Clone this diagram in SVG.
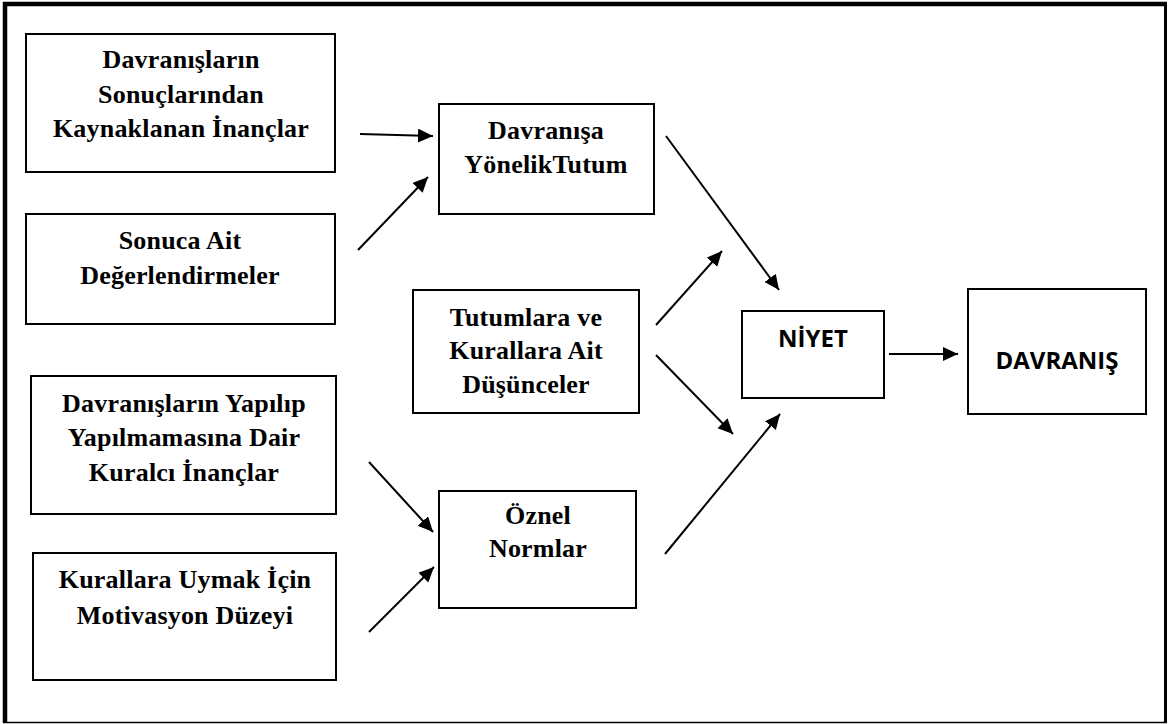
<svg xmlns="http://www.w3.org/2000/svg" width="1168" height="724" viewBox="0 0 1168 724">
  <style>
    .box { fill: #ffffff; stroke: #000000; stroke-width: 2; }
    .t { font-family: "Liberation Serif", "Times New Roman", serif; font-weight: bold; font-size: 26px; letter-spacing: 0.2px; text-anchor: middle; fill: #000000; }
    .s { font-family: "Open Sans", "Liberation Sans", sans-serif; font-weight: bold; font-size: 24px; text-anchor: middle; fill: #000000; }
    .edge { stroke: #000000; stroke-width: 2; fill: none; marker-end: url(#arrow); }
  </style>
  <defs>
    <marker id="arrow" markerUnits="userSpaceOnUse" markerWidth="16" markerHeight="16" refX="15" refY="7" orient="auto">
      <path d="M0,0 L15,7 L0,14 z" fill="#000000"/>
    </marker>
  </defs>

  <rect width="1168" height="724" fill="#ffffff"/>

  <!-- outer frame -->
  <g id="frame" stroke="#000000" fill="none">
    <line x1="5" y1="2" x2="5" y2="723" stroke-width="4.5"/>
    <line x1="3" y1="4" x2="1167" y2="4" stroke-width="4.5"/>
    <line x1="1165.5" y1="2" x2="1165.5" y2="723" stroke-width="3"/>
    <line x1="3" y1="722.5" x2="1167" y2="722.5" stroke-width="1.5"/>
  </g>

  <g id="n-sonuc-inanc">
    <rect class="box" x="26" y="34" width="309" height="138"/>
    <text class="t" x="181" y="68">Davranışların</text>
    <text class="t" x="181" y="103">Sonuçlarından</text>
    <text class="t" x="181" y="137">Kaynaklanan  İnançlar</text>
  </g>

  <g id="n-sonuca-ait">
    <rect class="box" x="26" y="214" width="309" height="110"/>
    <text class="t" x="180" y="249">Sonuca Ait</text>
    <text class="t" x="180" y="284">Değerlendirmeler</text>
  </g>

  <g id="n-tutum">
    <rect class="box" x="439" y="104" width="215" height="110"/>
    <text class="t" x="546" y="139">Davranışa</text>
    <text class="t" x="546" y="173">YönelikTutum</text>
  </g>

  <g id="n-dusunce">
    <rect class="box" x="413" y="290" width="226" height="123"/>
    <text class="t" x="526" y="326">Tutumlara ve</text>
    <text class="t" x="526" y="359">Kurallara Ait</text>
    <text class="t" x="526" y="393">Düşünceler</text>
  </g>

  <g id="n-kuralci">
    <rect class="box" x="31" y="376" width="305" height="138"/>
    <text class="t" x="184" y="412">Davranışların Yapılıp</text>
    <text class="t" x="184" y="446">Yapılmamasına Dair</text>
    <text class="t" x="184" y="481">Kuralcı İnançlar</text>
  </g>

  <g id="n-motivasyon">
    <rect class="box" x="33" y="553" width="303" height="127"/>
    <text class="t" x="185" y="588">Kurallara Uymak İçin</text>
    <text class="t" x="185" y="624">Motivasyon Düzeyi</text>
  </g>

  <g id="n-oznel">
    <rect class="box" x="439" y="491" width="197" height="117"/>
    <text class="t" x="538" y="524">Öznel</text>
    <text class="t" x="538" y="557">Normlar</text>
  </g>

  <g id="n-niyet">
    <rect class="box" x="742" y="311" width="142" height="87"/>
    <text class="s" x="813" y="347">NİYET</text>
  </g>

  <g id="n-davranis">
    <rect class="box" x="968" y="289" width="178" height="125"/>
    <text class="s" x="1057" y="369">DAVRANIŞ</text>
  </g>

  <g id="connectors">
    <line class="edge" x1="360" y1="134" x2="433" y2="136"/>
    <line class="edge" x1="358" y1="250" x2="428" y2="177" stroke-width="2.5"/>
    <line class="edge" x1="666" y1="136" x2="779" y2="290"/>
    <line class="edge" x1="656" y1="325" x2="722" y2="251"/>
    <line class="edge" x1="656" y1="355" x2="733" y2="434"/>
    <line class="edge" x1="369" y1="462" x2="433" y2="532"/>
    <line class="edge" x1="369" y1="632" x2="434" y2="567"/>
    <line class="edge" x1="665" y1="554" x2="780" y2="414"/>
    <line class="edge" x1="889" y1="354" x2="958" y2="354" stroke-width="2.5"/>
  </g>
</svg>
